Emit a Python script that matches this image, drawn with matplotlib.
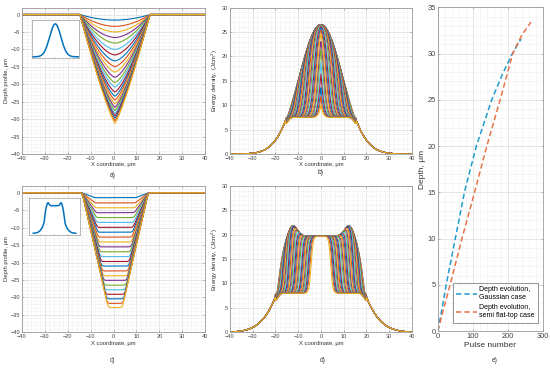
import numpy as np
import matplotlib.pyplot as plt
from matplotlib.ticker import MultipleLocator, AutoMinorLocator

plt.rcParams['font.family'] = ['Liberation Sans', 'DejaVu Sans']

# MATLAB default colour order
colors = ['#0072BD', '#D95319', '#EDB120', '#7E2F8E', '#77AC30', '#4DBEEE', '#A2142F']

# a) Gaussian beam: crater depth at the centre of each plotted profile (um)
gauss_depths = [1.6, 3.4, 5.0, 6.6, 8.2, 10.0, 11.6, 13.3, 14.9, 16.5, 18.0, 19.5,
                20.8, 22.2, 23.4, 24.5, 25.6, 26.6, 27.5, 28.3, 29.0, 29.7, 30.4, 31.2]
gauss_edges = [-14.7, 15.9]

# c) semi flat-top beam: depth and half width of the flat crater bottom (um)
flat_depths = [1.4, 2.9, 4.3, 5.7, 7.1, 8.5, 9.9, 11.3, 12.7, 14.1, 15.5, 16.9,
               18.3, 19.7, 21.0, 22.4, 23.8, 25.1, 26.5, 27.8, 29.1, 30.4, 31.7, 32.9]
flat_bottom = [9.0, 8.8, 8.6, 8.4, 8.2, 8.0, 7.8, 7.6, 7.4, 7.2, 7.0, 6.7,
               6.5, 6.2, 6.0, 5.7, 5.4, 5.1, 4.8, 4.5, 4.2, 3.8, 3.5, 3.1]
flat_edges = [-13.7, 15.1]

# b) energy density, Gaussian beam: peak, radius, threshold, crater half width
b_peak, b_w, b_thresh, b_half = 26.5, 18.9, 7.5, 15.5
# position where each profile leaves the beam profile (um)
b_fronts = [15.5, 15.0, 14.6, 14.1, 13.7, 13.2, 12.7, 12.3, 11.8, 11.4, 10.9, 10.4,
            10.0, 9.5, 9.1, 8.6, 8.1, 7.7, 7.2, 6.8, 6.3, 5.8, 5.4, 4.9, 4.5, 4.0,
            3.5, 3.1, 2.6, 2.2, 1.7, 1.2, 0.8, 0.3, -0.1, -0.6, -1.0, -1.5]

# d) energy density, semi flat-top beam
d_center, d_edge_peak, d_thresh, d_half = 19.7, 22.0, 8.0, 20.0
d_fronts = [19.5, 19.1, 18.7, 18.3, 17.9, 17.4, 17.0, 16.6, 16.2, 15.8, 15.4, 15.0,
            14.6, 14.2, 13.8, 13.3, 12.9, 12.5, 12.1, 11.7, 11.3, 10.9, 10.5, 10.1,
            9.7, 9.3, 8.8, 8.4, 8.0, 7.6, 7.2, 6.8, 6.4, 6.0, 5.6, 5.2, 4.8, 4.3]

# e) depth evolution
e_pulse_gauss = [0, 10, 24, 50, 76, 110, 154, 185, 213, 238]
e_depth_gauss = [0, 2.0, 5.0, 10.0, 15.0, 20.0, 25.0, 27.8, 30.0, 31.6]
e_pulse_flat = [0, 35, 69, 105, 140, 178, 214, 240, 266]
e_depth_flat = [0, 5.0, 10.0, 15.0, 20.0, 25.0, 30.0, 32.0, 33.4]

x = np.linspace(-40, 40, 1601)


def sig(z):
    return 1.0 / (1.0 + np.exp(-z))


def gauss_beam(x):
    return b_peak * np.exp(-2 * x ** 2 / b_w ** 2)


def flat_beam(x):
    ax_ = np.abs(x)
    inner = d_center * np.exp(-2 * (ax_ / 21.0) ** 10)
    inner += (d_edge_peak - d_center) * np.exp(-((ax_ - 12.5) / 2.8) ** 2)
    tail = 34.9 * np.exp(-2 * x ** 2 / 22.5 ** 2)
    return np.where(ax_ > 18, np.maximum(inner, tail), inner)


def style(ax, xlim, ylim, xstep, ystep, fs=4.0):
    ax.set_xlim(xlim)
    ax.set_ylim(ylim)
    ax.xaxis.set_major_locator(MultipleLocator(xstep))
    ax.yaxis.set_major_locator(MultipleLocator(ystep))
    ax.xaxis.set_minor_locator(AutoMinorLocator(5))
    ax.yaxis.set_minor_locator(AutoMinorLocator(5))
    ax.grid(which='major', color='#dcdcdc', lw=0.5)
    ax.grid(which='minor', color='#f0f0f0', lw=0.4)
    ax.set_axisbelow(True)
    ax.tick_params(which='both', direction='in', top=True, right=True,
                   labelsize=fs, labelcolor='#444444', color='#888888',
                   length=1.5, width=0.4, pad=1.5)
    ax.tick_params(which='minor', length=0)
    for s in ax.spines.values():
        s.set_color('#9a9a9a')
        s.set_linewidth(0.6)


def style_inset(ax):
    ax.tick_params(direction='in', length=1, width=0.3, color='#888888',
                   labelbottom=False, labelleft=False)
    for s in ax.spines.values():
        s.set_color('#9a9a9a')
        s.set_linewidth(0.5)


fig = plt.figure(figsize=(5.5, 3.68), dpi=100)

# ---- a) depth profiles, Gaussian
ax_a = fig.add_axes([0.040, 0.5815, 0.333, 0.398])
c0 = 0.5 * (gauss_edges[0] + gauss_edges[1])
hw = 0.5 * (gauss_edges[1] - gauss_edges[0])
dmax = max(gauss_depths)
for k, D in enumerate(gauss_depths):
    u = np.clip(np.abs(x - c0) / hw, 0, 1)
    p = 2.0 - 0.8 * (D / dmax) ** 0.8
    ax_a.plot(x, -D * (1 - u ** p), color=colors[k % 7], lw=0.8)
style(ax_a, (-40, 40), (-40, 2), 10, 5)
ax_a.set_ylabel('Depth profile, μm', fontsize=4.2, labelpad=1, color='#333333')
ax_a.set_xlabel('X coordinate, μm', fontsize=4.2, labelpad=1, color='#333333')

ins_a = fig.add_axes([0.0573, 0.8416, 0.0864, 0.104])
ins_a.plot(x, gauss_beam(x), color=colors[0], lw=1.1)
ins_a.set_xlim(-40, 40)
ins_a.set_ylim(-1.2, 29.6)
style_inset(ins_a)

# ---- b) energy density, Gaussian
ax_b = fig.add_axes([0.418, 0.5815, 0.331, 0.398])
G = gauss_beam(x)
nb = len(b_fronts)
for k, f in enumerate(b_fronts):
    sag = 1.3 * k / (nb - 1)
    plateau = b_thresh - sag * np.exp(-((np.abs(x) - b_half) / 1.5) ** 2)
    E = plateau + (G - plateau) * sig((f - np.abs(x)) / 0.8)
    E = np.where(np.abs(x) <= b_half, E, G)
    ax_b.plot(x, E, color=colors[k % 7], lw=0.7)
style(ax_b, (-40, 40), (0, 30), 10, 5)
ax_b.set_ylabel('Energy density, (J/cm$^2$)', fontsize=4.2, labelpad=1, color='#333333')
ax_b.set_xlabel('X coordinate, μm', fontsize=4.2, labelpad=1, color='#333333')

# ---- c) depth profiles, semi flat-top
ax_c = fig.add_axes([0.040, 0.097, 0.333, 0.398])
c1 = 0.5 * (flat_edges[0] + flat_edges[1])
hw1 = 0.5 * (flat_edges[1] - flat_edges[0])
dx = x[1] - x[0]
kern = np.exp(-0.5 * (np.arange(-30, 31) * dx / 0.45) ** 2)
kern /= kern.sum()
for k, (D, b) in enumerate(zip(flat_depths, flat_bottom)):
    r = np.clip((hw1 - np.abs(x - c1)) / (hw1 - b), 0, 1)
    r = np.convolve(r, kern, mode='same')
    ax_c.plot(x, -D * r, color=colors[k % 7], lw=0.8)
style(ax_c, (-40, 40), (-40, 2), 10, 5)
ax_c.set_ylabel('Depth profile, μm', fontsize=4.2, labelpad=1, color='#333333')
ax_c.set_xlabel('X coordinate, μm', fontsize=4.2, labelpad=1, color='#333333')

ins_c = fig.add_axes([0.0527, 0.3614, 0.0927, 0.1005])
ins_c.plot(x, flat_beam(x), color=colors[0], lw=1.1)
ins_c.set_xlim(-48, 48)
ins_c.set_ylim(-1.2, 25.2)
style_inset(ins_c)

# ---- d) energy density, semi flat-top
ax_d = fig.add_axes([0.418, 0.097, 0.331, 0.398])
F = flat_beam(x)
nd = len(d_fronts)
for k, f in enumerate(d_fronts):
    sag = 1.5 * k / (nd - 1)
    plateau = d_thresh - sag * np.exp(-((np.abs(x) - d_half) / 1.6) ** 2)
    E = plateau + (F - plateau) * sig((f - np.abs(x)) / 0.45)
    E = np.where(np.abs(x) <= d_half, E, F)
    ax_d.plot(x, E, color=colors[k % 7], lw=0.7)
style(ax_d, (-40, 40), (0, 30), 10, 5)
ax_d.set_ylabel('Energy density, (J/cm$^2$)', fontsize=4.2, labelpad=1, color='#333333')
ax_d.set_xlabel('X coordinate, μm', fontsize=4.2, labelpad=1, color='#333333')

# ---- e) depth evolution
ax_e = fig.add_axes([0.796, 0.1005, 0.191, 0.8796])
ax_e.plot(e_pulse_gauss, e_depth_gauss, '--', color='#1f9bcf', lw=1.1, dashes=(3.5, 2),
          label='Depth evolution,\nGaussian case')
ax_e.plot(e_pulse_flat, e_depth_flat, '--', color='#e8734a', lw=1.1, dashes=(3.5, 2),
          label='Depth evolution,\nsemi flat-top case')
style(ax_e, (0, 300), (0, 35), 100, 5, fs=5.4)
ax_e.set_ylabel('Depth, μm', fontsize=6, labelpad=1, color='#333333')
ax_e.set_xlabel('Pulse number', fontsize=6, labelpad=1.5, color='#333333')
leg = ax_e.legend(loc='lower right', bbox_to_anchor=(0.968, 0.022), fontsize=5.0,
                  handlelength=3.0, frameon=True, fancybox=False, borderpad=0.45,
                  labelspacing=0.45, handletextpad=0.4, borderaxespad=0.2)
leg.get_frame().set_edgecolor('#444444')
leg.get_frame().set_linewidth(0.5)

# panel letters
for lab, xp, yp in [('a)', 113, 175), ('b)', 321, 173), ('c)', 113, 360),
                    ('d)', 323, 360), ('e)', 495, 360)]:
    fig.text(xp / 550, 1 - yp / 368, lab, fontsize=4.8, ha='center', va='center',
             color='#333333')

fig.savefig('out.png', dpi=100)
